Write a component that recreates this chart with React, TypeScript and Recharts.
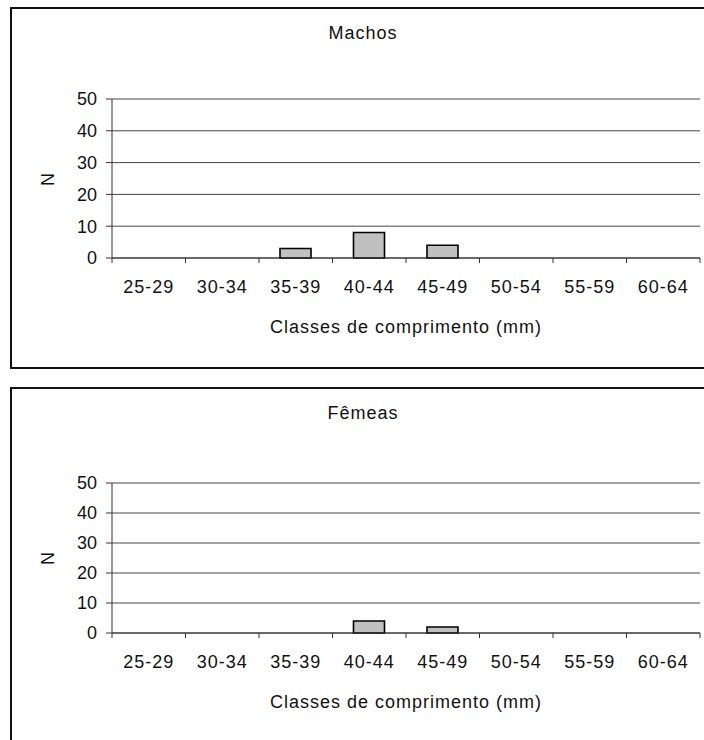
import React from 'react';
import { BarChart, Bar, XAxis, YAxis, CartesianGrid } from 'recharts';

const classes = ['25-29', '30-34', '35-39', '40-44', '45-49', '50-54', '55-59', '60-64'];
const machos = [0, 0, 3, 8, 4, 0, 0, 0];
const femeas = [0, 0, 0, 4, 2, 0, 0, 0];
const yTicks = [0, 10, 20, 30, 40, 50];

const CHART_W = 704;
const CHART_H = 370;
const PLOT_LEFT = 112;
const PLOT_RIGHT = 4;
const BAND_HALF = (CHART_W - PLOT_LEFT - PLOT_RIGHT) / classes.length / 2;

const font = '"Liberation Sans", Arial, sans-serif';
const txt: React.CSSProperties = {
  position: 'absolute',
  fontFamily: font,
  fontSize: 18,
  letterSpacing: 1,
  color: '#111',
  whiteSpace: 'nowrap',
  transform: 'translate(-50%, -50%)',
};

// category label at the centre, small tick mark on the band edges
const ClassTick = (props: any) => {
  const { x, y, payload, index } = props;
  const half = BAND_HALF;
  return (
    <g>
      <line x1={x - half} x2={x - half} y1={y} y2={y + 5} stroke="#333" />
      {index === classes.length - 1 && (
        <line x1={x + half} x2={x + half} y1={y} y2={y + 5} stroke="#333" />
      )}
      <text
        x={x}
        y={y + 29}
        textAnchor="middle"
        dominantBaseline="central"
        fontFamily={font}
        fontSize={18}
        letterSpacing={1}
        fill="#111"
      >
        {payload.value}
      </text>
    </g>
  );
};

const Panel = ({
  title,
  values,
  top,
  plotTop,
  plotBottom,
}: {
  title: string;
  values: number[];
  top: number;
  plotTop: number;
  plotBottom: number;
}) => {
  const data = classes.map((c, i) => ({ classe: c, n: values[i] }));
  const mid = (plotTop + plotBottom) / 2;
  return (
    <>
      <div style={{ position: 'absolute', left: 0, top }}>
        <BarChart
          width={CHART_W}
          height={CHART_H}
          data={data}
          margin={{ top: plotTop, right: PLOT_RIGHT, bottom: CHART_H - plotBottom - 1, left: 20 }}
          barSize={31}
        >
          <CartesianGrid horizontal vertical={false} stroke="#444" strokeOpacity={1} />
          <XAxis
            dataKey="classe"
            height={1}
            tickSize={0}
            tickMargin={0}
            tickLine={false}
            axisLine={{ stroke: '#333' }}
            interval={0}
            tick={(p: any) => <ClassTick {...p} />}
          />
          <YAxis
            width={92}
            domain={[0, 50]}
            ticks={yTicks}
            interval={0}
            tickSize={6}
            tickMargin={9}
            axisLine={{ stroke: '#333' }}
            tickLine={{ stroke: '#333' }}
            tick={{ fontFamily: font, fontSize: 18, fill: '#111' }}
          />
          <Bar dataKey="n" fill="#c0c0c0" stroke="#000" strokeWidth={1.6} isAnimationActive={false} />
        </BarChart>
      </div>
      <div style={{ ...txt, left: 363, top: top + 33 }}>{title}</div>
      <div style={{ ...txt, left: 48, top: top + mid, transform: 'translate(-50%, -50%) rotate(-90deg)' }}>N</div>
      <div style={{ ...txt, left: 406, top: top + plotBottom + 68.5 }}>Classes de comprimento (mm)</div>
    </>
  );
};

export default function App() {
  return (
    <div
      style={{
        position: 'absolute',
        left: 0,
        top: 0,
        width: 704,
        height: 740,
        overflow: 'hidden',
        background: '#fff',
      }}
    >
      <div
        style={{
          position: 'absolute',
          left: 10,
          top: 7,
          width: 760,
          height: 358,
          border: '2px solid #111',
          borderRight: 'none',
        }}
      />
      <div
        style={{
          position: 'absolute',
          left: 10,
          top: 387,
          width: 760,
          height: 400,
          border: '2px solid #111',
          borderRight: 'none',
          borderBottom: 'none',
        }}
      />
      <Panel title="Machos" values={machos} top={0} plotTop={99} plotBottom={258} />
      <Panel title="Fêmeas" values={femeas} top={380} plotTop={103} plotBottom={253} />
    </div>
  );
}
